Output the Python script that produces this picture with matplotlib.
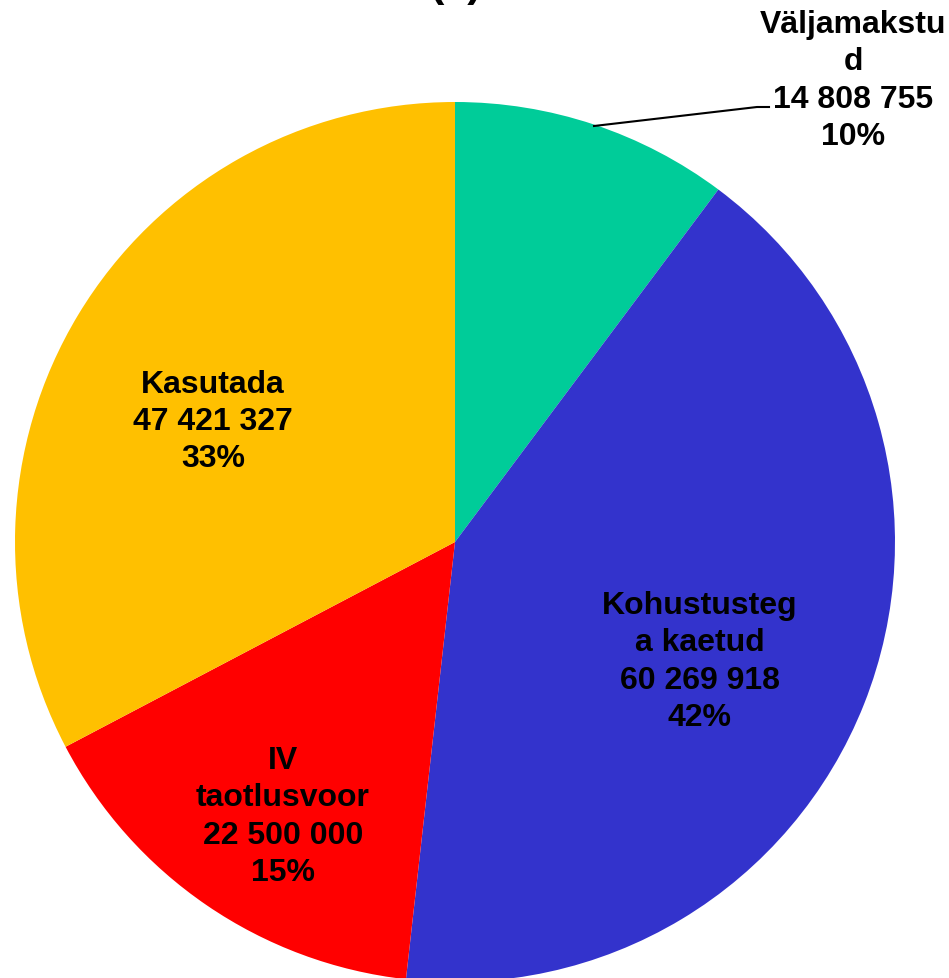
import matplotlib
matplotlib.use("Agg")
import matplotlib.pyplot as plt

categories = ["Väljamakstud", "Kohustustega kaetud", "IV taotlusvoor", "Kasutada"]
label_lines = ["Väljamakstu\nd", "Kohustusteg\na kaetud", "IV\ntaotlusvoor", "Kasutada"]
values = [14808755, 60269918, 22500000, 47421327]
value_labels = ["14 808 755", "60 269 918", "22 500 000", "47 421 327"]
percent_labels = ["10%", "42%", "15%", "33%"]
colors = ["#00CC99", "#3333CC", "#FF0000", "#FFC000"]
title = "(€)"

W, H = 949, 979
fig = plt.figure(figsize=(W / 100, H / 100), dpi=100)
ax = fig.add_axes([0, 0, 1, 1])

cx, cy, R = 455, 543, 440
def to_data(px, py):
    return (px - cx) / R, (cy - py) / R

ax.pie(values, colors=colors, startangle=90, counterclock=False, radius=1,
       center=(0, 0), wedgeprops=dict(linewidth=0))
ax.set_xlim(-cx / R, (W - cx) / R)
ax.set_ylim(-(H - cy) / R, cy / R)
ax.set_aspect("auto")
ax.axis("off")

font = dict(family=["Liberation Sans", "DejaVu Sans"], fontweight="bold", fontsize=23)
label_pos = [(853, 81), (700, 662), (283, 817), (213, 422)]
for lab, val, pct, (px, py) in zip(label_lines, value_labels, percent_labels, label_pos):
    x, y = to_data(px, py)
    ax.text(x, y, f"{lab}\n{val}\n{pct}", ha="center", va="center",
            linespacing=1.32, color="black", **font)

# leader line for the first slice
p1 = to_data(594, 127)
p2 = to_data(757, 108)
p3 = to_data(769, 108)
ax.plot([p1[0], p2[0], p3[0]], [p1[1], p2[1], p3[1]], color="black", lw=1.5)

fig.text(456 / W, 1 + 4 / H, title, ha="center", va="baseline",
         family=["Liberation Sans", "DejaVu Sans"], fontweight="bold", fontsize=31)

fig.savefig("out.png", dpi=100)
